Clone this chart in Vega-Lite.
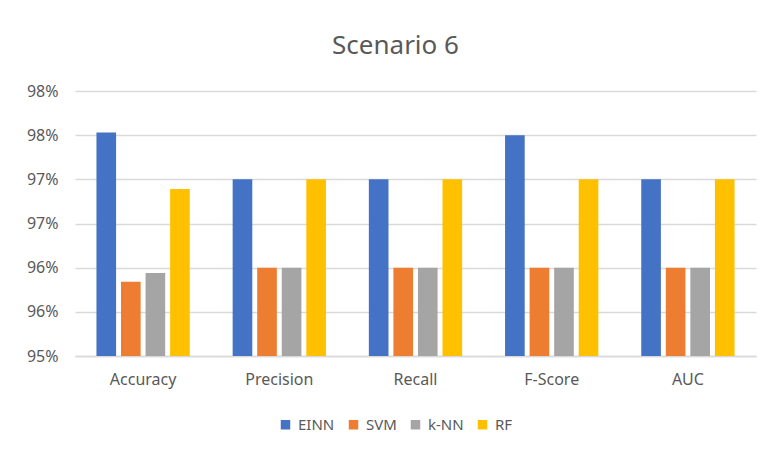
{
  "$schema": "https://vega.github.io/schema/vega-lite/v6.json",
  "width": 681,
  "height": 265,
  "autosize": "none",
  "padding": {"left": 75, "top": 91, "right": 10, "bottom": 94},
  "background": "white",
  "title": {
    "text": "Scenario 6",
    "font": "Noto Sans",
    "fontSize": 26,
    "fontWeight": "normal",
    "color": "#595959",
    "anchor": "middle",
    "dx": -20,
    "offset": 24
  },
  "data": {
    "values": [
      {"metric": "Accuracy", "model": "EINN", "value": 97.53},
      {"metric": "Accuracy", "model": "SVM", "value": 95.84},
      {"metric": "Accuracy", "model": "k-NN", "value": 95.94},
      {"metric": "Accuracy", "model": "RF", "value": 96.89},
      {"metric": "Precision", "model": "EINN", "value": 97.0},
      {"metric": "Precision", "model": "SVM", "value": 96.0},
      {"metric": "Precision", "model": "k-NN", "value": 96.0},
      {"metric": "Precision", "model": "RF", "value": 97.0},
      {"metric": "Recall", "model": "EINN", "value": 97.0},
      {"metric": "Recall", "model": "SVM", "value": 96.0},
      {"metric": "Recall", "model": "k-NN", "value": 96.0},
      {"metric": "Recall", "model": "RF", "value": 97.0},
      {"metric": "F-Score", "model": "EINN", "value": 97.5},
      {"metric": "F-Score", "model": "SVM", "value": 96.0},
      {"metric": "F-Score", "model": "k-NN", "value": 96.0},
      {"metric": "F-Score", "model": "RF", "value": 97.0},
      {"metric": "AUC", "model": "EINN", "value": 97.0},
      {"metric": "AUC", "model": "SVM", "value": 96.0},
      {"metric": "AUC", "model": "k-NN", "value": 96.0},
      {"metric": "AUC", "model": "RF", "value": 97.0}
    ]
  },
  "mark": {"type": "bar", "clip": true},
  "encoding": {
    "x": {
      "field": "metric",
      "type": "nominal",
      "sort": ["Accuracy", "Precision", "Recall", "F-Score", "AUC"],
      "scale": {"paddingInner": 0.315, "paddingOuter": 0.1575},
      "axis": {
        "title": null,
        "labelAngle": 0,
        "labelFont": "Noto Sans",
        "labelFontSize": 16,
        "labelColor": "#595959",
        "labelPadding": 15,
        "ticks": false,
        "domainColor": "#d9d9d9",
        "domainWidth": 1.5,
        "grid": false
      }
    },
    "xOffset": {
      "field": "model",
      "type": "nominal",
      "sort": ["EINN", "SVM", "k-NN", "RF"],
      "scale": {"paddingInner": 0.2, "paddingOuter": 0}
    },
    "y": {
      "field": "value",
      "type": "quantitative",
      "scale": {"domain": [95, 98], "zero": false, "nice": false},
      "axis": {
        "title": null,
        "values": [95, 95.5, 96, 96.5, 97, 97.5, 98],
        "labelExpr": "ceil(datum.value) + '%'",
        "labelFont": "Noto Sans",
        "labelFontSize": 16,
        "labelColor": "#595959",
        "labelPadding": 17,
        "ticks": false,
        "domain": false,
        "gridColor": "#d9d9d9",
        "gridWidth": 1.5
      }
    },
    "y2": {"datum": 95},
    "color": {
      "field": "model",
      "type": "nominal",
      "sort": ["EINN", "SVM", "k-NN", "RF"],
      "scale": {
        "domain": ["EINN", "SVM", "k-NN", "RF"],
        "range": ["#4472c4", "#ed7d31", "#a5a5a5", "#ffc000"]
      },
      "legend": {
        "title": null,
        "orient": "none",
        "direction": "horizontal",
        "legendX": 203,
        "legendY": 326,
        "symbolType": "square",
        "symbolSize": 90,
        "symbolStrokeWidth": 0,
        "labelFont": "Noto Sans",
        "labelFontSize": 15,
        "labelColor": "#595959",
        "columnPadding": 11,
        "labelOffset": 5
      }
    }
  },
  "config": {
    "view": {"stroke": null}
  }
}
